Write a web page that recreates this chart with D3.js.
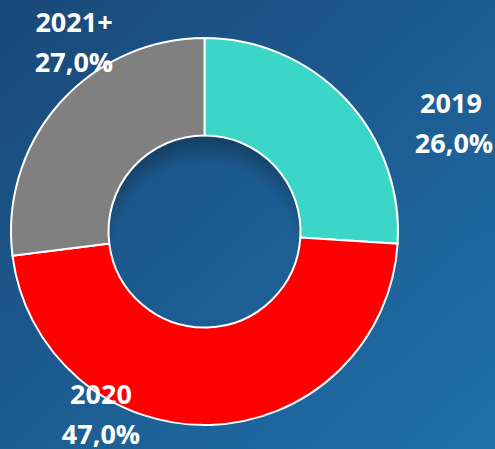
<!DOCTYPE html>
<html><head><meta charset="utf-8">
<script src="https://cdn.jsdelivr.net/npm/d3@7"></script>
<style>html,body{margin:0;padding:0;overflow:hidden;}svg{display:block;}</style>
</head><body>
<svg id="c" width="495" height="449"></svg>
<script>
const categories = ["2019", "2020", "2021+"];
const values = [26.0, 47.0, 27.0];
const valueLabels = ["26,0%", "47,0%", "27,0%"];
const colors = ["#3bd6c8", "#ff0000", "#808080"];

const W = 495, H = 449;
const svg = d3.select("#c");
const defs = svg.append("defs");
const bg = defs.append("linearGradient").attr("id", "bg")
  .attr("x1", "0%").attr("y1", "0%").attr("x2", "100%").attr("y2", "100%");
bg.append("stop").attr("offset", "0%").attr("stop-color", "#1a4878");
bg.append("stop").attr("offset", "100%").attr("stop-color", "#1f70aa");
const hole = defs.append("radialGradient").attr("id", "hole")
  .attr("cx", "50%").attr("cy", "62%").attr("r", "60%");
hole.append("stop").attr("offset", "80%").attr("stop-color", "#000").attr("stop-opacity", 0);
hole.append("stop").attr("offset", "100%").attr("stop-color", "#000").attr("stop-opacity", 0.25);

svg.append("rect").attr("width", W).attr("height", H).attr("fill", "url(#bg)");

const cx = 204.5, cy = 231.5, R = 193.5, r = 96;
const g = svg.append("g").attr("transform", `translate(${cx},${cy})`);
const pie = d3.pie().sort(null).value(d => d.v);
const data = categories.map((c, i) => ({c, v: values[i], lab: valueLabels[i], col: colors[i]}));
const arc = d3.arc().innerRadius(r).outerRadius(R);
g.selectAll("path").data(pie(data)).join("path")
  .attr("d", arc).attr("fill", d => d.data.col)
  .attr("stroke", "#fff").attr("stroke-width", 2);
g.append("circle").attr("r", r - 1).attr("fill", "url(#hole)");

const labelPos = [[451, 113], [101, 404], [74, 32]];
const fontFam = "'Open Sans', 'DejaVu Sans', sans-serif";
data.forEach((d, i) => {
  const [x, y] = labelPos[i];
  const t = svg.append("text").attr("text-anchor", "middle")
    .attr("font-family", fontFam).attr("font-weight", 700)
    .attr("font-size", 27).attr("fill", "#fff");
  t.append("tspan").attr("x", x).attr("y", y).text(d.c);
  t.append("tspan").attr("x", x + (i === 0 ? 3 : 0)).attr("y", y + 40).text(d.lab);
});
</script>
</body></html>
